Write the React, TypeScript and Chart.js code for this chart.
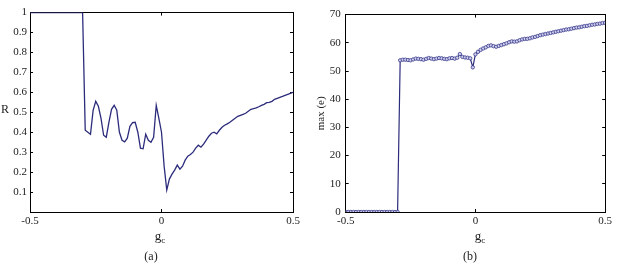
import { useEffect, useRef } from "react";
import { Chart, registerables } from "chart.js";

Chart.register(...registerables);

// g_c grid (x values), shared by both panels
const gc = [
  -0.5, -0.49, -0.48, -0.47, -0.46, -0.45, -0.44, -0.43, -0.42, -0.41,
  -0.4, -0.39, -0.38, -0.37, -0.36, -0.35, -0.34, -0.33, -0.32, -0.31,
  -0.3, -0.29, -0.28, -0.27, -0.26, -0.25, -0.24, -0.23, -0.22, -0.21,
  -0.2, -0.19, -0.18, -0.17, -0.16, -0.15, -0.14, -0.13, -0.12, -0.11,
  -0.1, -0.09, -0.08, -0.07, -0.06, -0.05, -0.04, -0.03, -0.02, -0.01,
  0, 0.01, 0.02, 0.03, 0.04, 0.05, 0.06, 0.07, 0.08, 0.09,
  0.1, 0.11, 0.12, 0.13, 0.14, 0.15, 0.16, 0.17, 0.18, 0.19,
  0.2, 0.21, 0.22, 0.23, 0.24, 0.25, 0.26, 0.27, 0.28, 0.29,
  0.3, 0.31, 0.32, 0.33, 0.34, 0.35, 0.36, 0.37, 0.38, 0.39,
  0.4, 0.41, 0.42, 0.43, 0.44, 0.45, 0.46, 0.47, 0.48, 0.49,
  0.5,
];

// Panel (a): R
const rValues = [
  1, 1, 1, 1, 1, 1, 1, 1, 1, 1,
  1, 1, 1, 1, 1, 1, 1, 1, 1, 1,
  1, 0.41, 0.4, 0.39, 0.51, 0.555, 0.53, 0.47, 0.385, 0.375,
  0.45, 0.515, 0.535, 0.51, 0.4, 0.36, 0.352, 0.37, 0.43, 0.448,
  0.45, 0.4, 0.32, 0.317, 0.39, 0.36, 0.35, 0.375, 0.535, 0.47,
  0.4, 0.23, 0.11, 0.165, 0.19, 0.21, 0.235, 0.215, 0.23, 0.26,
  0.28, 0.288, 0.3, 0.32, 0.335, 0.325, 0.34, 0.36, 0.38, 0.395,
  0.4, 0.392, 0.41, 0.425, 0.435, 0.442, 0.45, 0.46, 0.47, 0.48,
  0.485, 0.49, 0.495, 0.505, 0.515, 0.518, 0.522, 0.528, 0.535, 0.54,
  0.548, 0.55, 0.555, 0.565, 0.57, 0.575, 0.58, 0.585, 0.59, 0.595,
  0.6,
];

// Panel (b): max(e)
const maxE = [
  0, 0, 0, 0, 0, 0, 0, 0, 0, 0,
  0, 0, 0, 0, 0, 0, 0, 0, 0, 0,
  0, 53.8, 54.0, 54.0, 53.9, 53.8, 54.1, 54.4, 54.3, 54.2,
  54.0, 54.3, 54.6, 54.4, 54.2, 54.4, 54.6, 54.5, 54.3, 54.2,
  54.5, 54.6, 54.4, 54.7, 56.0, 55.0, 54.8, 54.7, 54.5, 51.3,
  55.9, 56.8, 57.5, 58.0, 58.4, 58.9, 59.1, 58.8, 58.6, 58.9,
  59.2, 59.5, 59.8, 60.2, 60.5, 60.4, 60.5, 60.9, 61.2, 61.4,
  61.4, 61.6, 61.9, 62.1, 62.4, 62.7, 62.9, 63.1, 63.3, 63.5,
  63.7, 63.9, 64.1, 64.3, 64.5, 64.7, 64.8, 65.0, 65.2, 65.4,
  65.5, 65.7, 65.9, 66.0, 66.2, 66.4, 66.5, 66.7, 66.8, 67.0,
  67.1,
];

const xTicksVals = [-0.5, 0, 0.5];

const LINE = "#2c2c7c";
const FONT = '"Liberation Serif", "Times New Roman", serif';

Chart.defaults.font.family = FONT;
Chart.defaults.font.size = 11;
Chart.defaults.color = "#222";

const grid = {
  drawOnChartArea: false,
  drawTicks: true,
  tickLength: -3,
  color: "#000",
  lineWidth: 1,
};
const border = { display: true, color: "#000", width: 1 };

function makeScales(opts: {
  ymin: number;
  ymax: number;
  ystep: number;
  yWidth: number;
  yPad: number;
  yLabel: (v: number) => string;
  yTitle?: string;
}) {
  return {
    x: {
      type: "linear" as const,
      position: "bottom" as const,
      min: -0.5,
      max: 0.5,
      border,
      grid,
      afterBuildTicks: (s: any) => {
        s.ticks = xTicksVals.map((v) => ({ value: v }));
      },
      ticks: {
        padding: 6,
        maxRotation: 0,
        autoSkip: false,
        callback: (v: any) => String(v),
      },
      afterFit: (s: any) => {
        s.height = 52;
      },
    },
    x2: {
      type: "linear" as const,
      position: "top" as const,
      min: -0.5,
      max: 0.5,
      border,
      grid,
      afterBuildTicks: (s: any) => {
        s.ticks = xTicksVals.map((v) => ({ value: v }));
      },
      ticks: { display: false },
      afterFit: (s: any) => {
        s.height = 0;
      },
    },
    y: {
      type: "linear" as const,
      position: "left" as const,
      min: opts.ymin,
      max: opts.ymax,
      border,
      grid,
      ticks: {
        stepSize: opts.ystep,
        padding: opts.yPad,
        callback: (v: any) => opts.yLabel(Number(v)),
      },
      title: opts.yTitle
        ? {
            display: true,
            text: opts.yTitle,
            color: "#222",
            font: { family: FONT, size: 11 },
            padding: { top: 7, bottom: 0 },
          }
        : { display: false },
      afterFit: (s: any) => {
        s.width = opts.yWidth;
      },
    },
    y2: {
      type: "linear" as const,
      position: "right" as const,
      min: opts.ymin,
      max: opts.ymax,
      border,
      grid,
      ticks: { display: false, stepSize: opts.ystep },
      afterFit: (s: any) => {
        s.width = 0;
      },
    },
  };
}

export default function App() {
  const refA = useRef<HTMLCanvasElement | null>(null);
  const refB = useRef<HTMLCanvasElement | null>(null);

  useEffect(() => {
    if (!refA.current || !refB.current) return;
    const chartA = new Chart(refA.current, {
      type: "line",
      data: {
        datasets: [
          {
            data: gc.map((g, i) => ({ x: g, y: rValues[i] })),
            borderColor: LINE,
            borderWidth: 1.3,
            pointRadius: 0,
            tension: 0,
            fill: false,
            xAxisID: "x",
            yAxisID: "y",
          },
        ],
      },
      options: {
        responsive: false,
        animation: false,
        layout: {
          autoPadding: false,
          padding: { left: 0, right: 16, top: 6, bottom: 0 },
        },
        plugins: { legend: { display: false }, tooltip: { enabled: false } },
        scales: makeScales({
          ymin: 0,
          ymax: 1,
          ystep: 0.1,
          yWidth: 30,
          yPad: 6,
          yLabel: (v) => (Math.abs(v) < 1e-9 ? "" : String(Math.round(v * 10) / 10)),
        }) as any,
      },
    });
    const chartB = new Chart(refB.current, {
      type: "line",
      data: {
        datasets: [
          {
            data: gc.map((g, i) => ({ x: g, y: maxE[i] })),
            borderColor: LINE,
            borderWidth: 1.2,
            pointRadius: 1.7,
            pointBorderWidth: 0.8,
            pointBorderColor: "#3a3a8c",
            pointBackgroundColor: "#cfcfee",
            tension: 0,
            fill: false,
            xAxisID: "x",
            yAxisID: "y",
          },
        ],
      },
      options: {
        responsive: false,
        animation: false,
        layout: {
          autoPadding: false,
          padding: { left: 0, right: 5.7, top: 4.7, bottom: 0 },
        },
        plugins: { legend: { display: false }, tooltip: { enabled: false } },
        scales: makeScales({
          ymin: 0,
          ymax: 70,
          ystep: 10,
          yWidth: 37.7,
          yPad: 8,
          yLabel: (v) => String(Math.round(v)),
          yTitle: "max (e)",
        }) as any,
      },
    });
    return () => {
      chartA.destroy();
      chartB.destroy();
    };
  }, []);

  const label = (
    left: number,
    top: number,
    size: number,
    content: any
  ) => (
    <div
      style={{
        position: "absolute",
        left,
        top,
        transform: "translate(-50%, -50%)",
        fontSize: size,
        lineHeight: 1,
        whiteSpace: "nowrap",
      }}
    >
      {content}
    </div>
  );

  const gcLabel = (
    <span>
      g<sub style={{ fontSize: "0.7em", verticalAlign: "-0.25em" }}>c</sub>
    </span>
  );

  return (
    <div
      style={{
        position: "absolute",
        left: 0,
        top: 0,
        width: 618,
        height: 264,
        overflow: "hidden",
        background: "#fff",
        fontFamily: FONT,
        color: "#222",
      }}
    >
      <canvas
        ref={refA}
        width={309}
        height={264}
        style={{ position: "absolute", left: 0, top: 0, display: "block" }}
      />
      <canvas
        ref={refB}
        width={310}
        height={264}
        style={{ position: "absolute", left: 308, top: 0, display: "block" }}
      />
      {label(5, 109, 12, "R")}
      {label(160, 237, 13, gcLabel)}
      {label(151, 256, 12, "(a)")}
      {label(480, 237, 13, gcLabel)}
      {label(470, 256, 12, "(b)")}
    </div>
  );
}
